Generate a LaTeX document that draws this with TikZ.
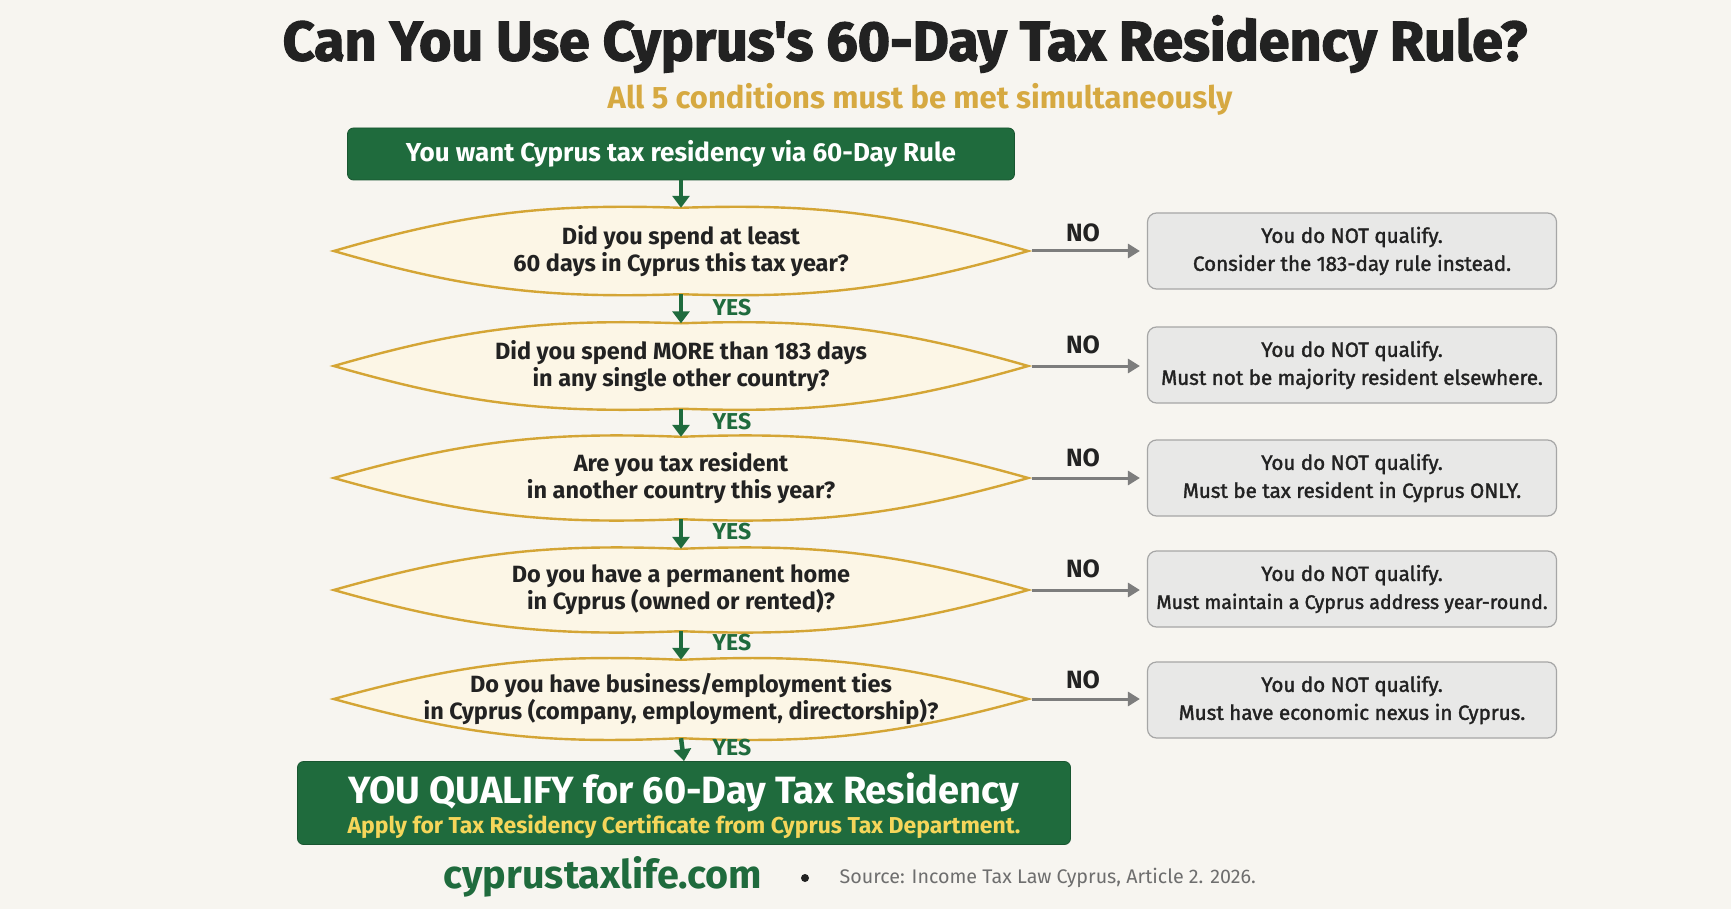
\documentclass[tikz,border=0pt]{standalone}
\usepackage{fontspec}
\setmainfont{Fira Sans}
\newcommand{\boldfont}{\bfseries}
\newcommand{\heavy}[2]{\special{pdf:code 2 Tr #1 w}#2\special{pdf:code 0 Tr}}
\usetikzlibrary{arrows.meta}
\definecolor{bgc}{HTML}{F7F5F0}
\definecolor{dgreen}{HTML}{1F6B3D}
\definecolor{gold}{HTML}{D6A941}
\definecolor{lensline}{HTML}{D4A535}
\definecolor{lensfill}{HTML}{FCF6E6}
\definecolor{yell}{HTML}{F5D65A}
\definecolor{garrow}{HTML}{7D7D7D}
\definecolor{boxfill}{HTML}{E8E8E7}
\definecolor{boxline}{HTML}{A6A6A6}
\definecolor{txt}{HTML}{222222}
\definecolor{srcgray}{HTML}{6E6E6E}
\pgfdeclarelayer{back}
\pgfdeclarelayer{bg}
\pgfsetlayers{back,bg,main}
\begin{document}
\begin{tikzpicture}[x=1pt,y=-1pt,
  qbox/.style={rectangle,draw=none,inner sep=0pt,minimum width=694pt,align=center,
    text=txt,font=\bfseries\fontsize{23.5}{27}\selectfont},
  lens/.style={draw=lensline,line width=2.4pt,fill=lensfill},
  nobox/.style={rectangle,rounded corners=9pt,draw=boxline,line width=1.2pt,fill=boxfill,
    minimum width=409pt,minimum height=76pt,inner xsep=2pt,align=center,text=txt,
    font=\fontsize{20.6}{28}\selectfont},
  greenbox/.style={rectangle,rounded corners=6pt,fill=dgreen,draw=dgreen!80!black,line width=0.8pt,align=center},
  yesarrow/.style={draw=dgreen,line width=4.5pt,-{Triangle[width=17pt,length=12pt]}},
  noarrow/.style={draw=garrow,line width=3pt,-{Triangle[width=14pt,length=12pt]},shorten <=4pt,shorten >=7pt},
  yeslbl/.style={anchor=west,text=dgreen,font=\boldfont\fontsize{23}{25}\selectfont},
  nolbl/.style={text=txt,font=\boldfont\fontsize{25}{27}\selectfont}
]
\begin{pgfonlayer}{back}
\fill[bgc] (0,0) rectangle (1731,909);
\end{pgfonlayer}
\useasboundingbox (0,0) rectangle (1731,909);

% title
\node (title) at (905,44) {\bfseries\fontsize{55.5}{60}\selectfont\addfontfeature{Ligatures=TeXOff}\color{txt}\heavy{1.3}{Can You Use Cyprus's 60-Day Tax Residency Rule?}};
\node (sub) at (920,99) {\boldfont\fontsize{31}{34}\selectfont\color{gold}All 5 conditions must be met simultaneously};

% start box
\node[greenbox,minimum width=667pt,minimum height=52pt,text=white,font=\bfseries\fontsize{26}{28}\selectfont] (start) at (681,154) {You want Cyprus tax residency via 60-Day Rule};

% questions
\node[qbox,minimum height=86pt] (q1) at (681,251) {Did you spend at least\\60 days in Cyprus this tax year?};
\node[qbox,minimum height=85pt] (q2) at (681,366) {Did you spend MORE than 183 days\\in any single other country?};
\node[qbox,minimum height=82pt] (q3) at (681,478) {Are you tax resident\\in another country this year?};
\node[qbox,minimum height=82pt] (q4) at (681,590) {Do you have a permanent home\\in Cyprus (owned or rented)?};
\node[qbox,minimum height=78pt] (q5) at (681,699) {Do you have business/employment ties\\in Cyprus (company, employment, directorship)?};

\begin{pgfonlayer}{bg}
\foreach \q in {q1,q2,q3,q4,q5}{
  \path[lens] (\q.west) to[bend left=9] (\q.north) to[bend left=9] (\q.east) to[bend left=9] (\q.south) to[bend left=9] (\q.west) -- cycle;
}
\end{pgfonlayer}

% no boxes
\node[nobox] (n1) at (1352,251) {\heavy{0.35}{You do NOT qualify.\\Consider the 183-day rule instead.}};
\node[nobox] (n2) at (1352,365) {\heavy{0.35}{You do NOT qualify.\\Must not be majority resident elsewhere.}};
\node[nobox] (n3) at (1352,478) {\heavy{0.35}{You do NOT qualify.\\Must be tax resident in Cyprus ONLY.}};
\node[nobox] (n4) at (1352,589) {\heavy{0.35}{You do NOT qualify.\\{\fontsize{19.6}{28}\selectfont Must maintain a Cyprus address year-round.}}};
\node[nobox] (n5) at (1352,700) {\heavy{0.35}{You do NOT qualify.\\Must have economic nexus in Cyprus.}};

% final box
\node[greenbox,minimum width=773pt,minimum height=83pt] (final) at (684,803) {%
  {\boldfont\fontsize{38}{40}\selectfont\color{white}\rule{0pt}{37pt}YOU QUALIFY for 60-Day Tax Residency}\\[2pt]
  {\bfseries\fontsize{23}{26}\selectfont\color{yell}Apply for Tax Residency Certificate from Cyprus Tax Department.}};

% yes arrows
\draw[yesarrow] (start.south) -- (q1.north);
\draw[yesarrow] (q1.south) -- (q2.north);
\draw[yesarrow] (q2.south) -- (q3.north);
\draw[yesarrow] (q3.south) -- (q4.north);
\draw[yesarrow] (q4.south) -- (q5.north);
\draw[yesarrow] (q5.south) -- (final.north);

\node[yeslbl] (y1) at (709,308) {YES};
\node[yeslbl] (y2) at (709,422) {YES};
\node[yeslbl] (y3) at (709,532) {YES};
\node[yeslbl] (y4) at (709,643) {YES};
\node[yeslbl] (y5) at (709,748) {YES};

% no arrows
\foreach \i in {1,...,5}{
  \draw[noarrow] (q\i.east) -- (q\i.east -| n\i.west);
}
\node[nolbl] (no1) at (1083,233) {NO};
\node[nolbl] (no2) at (1083,345) {NO};
\node[nolbl] (no3) at (1083,458) {NO};
\node[nolbl] (no4) at (1083,569) {NO};
\node[nolbl] (no5) at (1083,680) {NO};

% footer
\node[anchor=west] (site) at (440,877) {\boldfont\fontsize{39.5}{42}\selectfont\color{dgreen}cyprustaxlife.com};
\fill[txt] (805,878) circle (4pt);
\node[anchor=west] (src) at (836,878) {\fontsize{19.7}{21}\selectfont\color{srcgray}Source: Income Tax Law Cyprus, Article 2. 2026.};
\end{tikzpicture}
\end{document}
